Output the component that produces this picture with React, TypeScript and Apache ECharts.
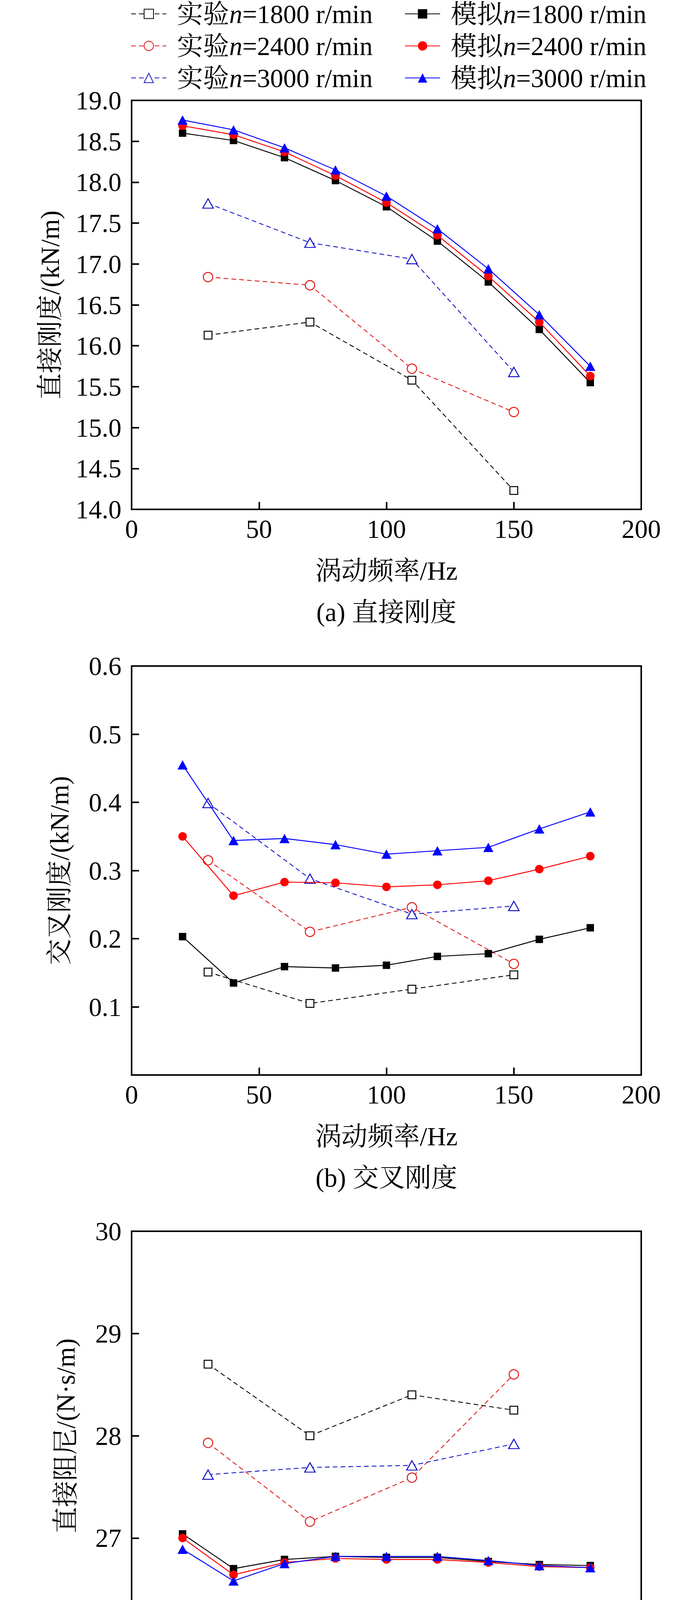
import React, { useEffect, useRef } from "react";
import * as echarts from "echarts";

const freqSim = [20, 40, 60, 80, 100, 120, 140, 160, 180];
const freqExp = [30, 70, 110, 150];

// (a) 直接刚度
const aSim1800 = [18.6, 18.51, 18.3, 18.02, 17.7, 17.28, 16.78, 16.2, 15.55];
const aSim2400 = [18.69, 18.58, 18.37, 18.08, 17.75, 17.35, 16.85, 16.29, 15.63];
const aSim3000 = [18.76, 18.64, 18.42, 18.15, 17.83, 17.43, 16.94, 16.38, 15.75];
const aExp1800 = [16.13, 16.29, 15.58, 14.23];
const aExp2400 = [16.84, 16.74, 15.72, 15.19];
const aExp3000 = [17.74, 17.26, 17.06, 15.68];

// (b) 交叉刚度
const bSim1800 = [0.203, 0.135, 0.159, 0.157, 0.161, 0.174, 0.178, 0.199, 0.216];
const bSim2400 = [0.35, 0.263, 0.283, 0.282, 0.276, 0.279, 0.285, 0.302, 0.321];
const bSim3000 = [0.455, 0.344, 0.347, 0.338, 0.324, 0.329, 0.334, 0.361, 0.386];
const bExp1800 = [0.151, 0.105, 0.126, 0.147];
const bExp2400 = [0.315, 0.21, 0.246, 0.163];
const bExp3000 = [0.399, 0.288, 0.236, 0.248];

// (c) 直接阻尼
const cSim1800 = [27.04, 26.7, 26.79, 26.82, 26.81, 26.81, 26.77, 26.74, 26.73];
const cSim2400 = [27.0, 26.64, 26.76, 26.8, 26.79, 26.79, 26.76, 26.72, 26.71];
const cSim3000 = [26.89, 26.58, 26.75, 26.82, 26.82, 26.82, 26.78, 26.73, 26.71];
const cExp1800 = [28.7, 28.0, 28.4, 28.25];
const cExp2400 = [27.93, 27.16, 27.59, 28.6];
const cExp3000 = [27.62, 27.69, 27.71, 27.92];

// (d) 有效阻尼
const dSim1800 = [25.41, 26.16, 26.37, 26.5, 26.55, 26.57, 26.57, 26.55, 26.53];
const dSim2400 = [24.21, 25.59, 26.01, 26.25, 26.36, 26.43, 26.44, 26.43, 26.43];
const dSim3000 = [23.27, 25.22, 25.84, 26.15, 26.3, 26.39, 26.39, 26.39, 26.39];
const dExp1800 = [27.89, 27.76, 28.23, 28.1];
const dExp2400 = [26.26, 26.68, 27.23, 28.43];
const dExp3000 = [25.51, 27.04, 27.36, 27.67];

const xTicks = [0, 50, 100, 150, 200];
const yRanges = [
  { min: 14, max: 19, interval: 0.5, digits: 1, hideMin: false },
  { min: 0, max: 0.6, interval: 0.1, digits: 1, hideMin: true },
  { min: 26, max: 30, interval: 1, digits: 0, hideMin: false },
  { min: 23, max: 30, interval: 1, digits: 0, hideMin: false },
];
const yNames = ["直接刚度/(kN/m)", "交叉刚度/(kN/m)", "直接阻尼/(N·s/m)", "有效阻尼/(N·s/m)"];
const captions = ["(a) 直接刚度", "(b) 交叉刚度", "(c) 直接阻尼", "(d) 有效阻尼"];
const xName = "涡动频率/Hz";

const expNames = ["实验n=1800 r/min", "实验n=2400 r/min", "实验n=3000 r/min"];
const simNames = ["模拟n=1800 r/min", "模拟n=2400 r/min", "模拟n=3000 r/min"];

const FONT = "'Liberation Serif', 'Times New Roman', 'Noto Serif CJK SC', 'Noto Sans CJK SC', serif";
const FS = 67;

export default function App() {
  const ref = useRef<HTMLDivElement>(null);
  useEffect(() => {
    document.body.style.margin = "0";
    if (!ref.current) return;
    const chart = echarts.init(ref.current, undefined, { renderer: "svg" });

    const expData = [
      [aExp1800, aExp2400, aExp3000],
      [bExp1800, bExp2400, bExp3000],
      [cExp1800, cExp2400, cExp3000],
      [dExp1800, dExp2400, dExp3000],
    ];
    const simData = [
      [aSim1800, aSim2400, aSim3000],
      [bSim1800, bSim2400, bSim3000],
      [cSim1800, cSim2400, cSim3000],
      [dSim1800, dSim2400, dSim3000],
    ];
    const expColors = ["#000000", "#e01818", "#1414c8"];
    const simColors = ["#000000", "#ff0000", "#0000ff"];
    const expSymbols = ["rect", "circle", "triangle"];
    const expSizes: any[] = [20, 24, [27, 24]];
    const simSizes: any[] = [19, 22, [26, 24]];

    const plotLeft = 337;
    const plotWidth = 1305;
    const plotHeight = 1047;
    const tops = [257, 1705, 3152, 4599];
    const nameGaps = [176, 152, 136, 136];

    const grids = tops.map((t) => ({
      left: plotLeft,
      top: t,
      width: plotWidth,
      height: plotHeight,
      show: true,
      borderColor: "#000",
      borderWidth: 4,
      backgroundColor: "transparent",
      containLabel: false,
    }));

    const xAxes = tops.map((_, i) => ({
      type: "value",
      gridIndex: i,
      min: xTicks[0],
      max: xTicks[xTicks.length - 1],
      interval: 50,
      name: xName,
      nameLocation: "middle",
      nameGap: 123,
      nameTextStyle: { fontSize: FS, fontFamily: FONT, color: "#000" },
      axisLine: { show: true, lineStyle: { color: "#000", width: 4 } },
      axisTick: { show: true, inside: true, length: 19, lineStyle: { color: "#000", width: 4 } },
      axisLabel: { fontSize: FS, fontFamily: FONT, color: "#000", margin: 16 },
      splitLine: { show: false },
    }));

    const yAxes = yRanges.map((r, i) => ({
      type: "value",
      gridIndex: i,
      min: r.min,
      max: r.max,
      interval: r.interval,
      name: yNames[i],
      nameLocation: "middle",
      nameGap: nameGaps[i],
      nameTextStyle: { fontSize: FS, fontFamily: FONT, color: "#000" },
      axisLine: { show: true, lineStyle: { color: "#000", width: 4 } },
      axisTick: { show: true, inside: true, length: 19, lineStyle: { color: "#000", width: 4 } },
      axisLabel: {
        fontSize: FS,
        fontFamily: FONT,
        color: "#000",
        margin: 26,
        formatter: (v: number) => (r.hideMin && Math.abs(v - r.min) < 1e-9 ? "" : v.toFixed(r.digits)),
      },
      splitLine: { show: false },
    }));

    const series: any[] = [];
    for (let g = 0; g < 4; g++) {
      for (let k = 0; k < 3; k++) {
        series.push({
          type: "line",
          name: expNames[k],
          xAxisIndex: g,
          yAxisIndex: g,
          data: freqExp.map((x, j) => [x, expData[g][k][j]]),
          symbol: expSymbols[k],
          symbolSize: expSizes[k],
          lineStyle: { color: expColors[k], width: 2.2, type: [12, 8] },
          itemStyle: { color: "#ffffff", borderColor: expColors[k], borderWidth: 2.5 },
          z: 2,
        });
      }
      for (let k = 0; k < 3; k++) {
        series.push({
          type: "line",
          name: simNames[k],
          xAxisIndex: g,
          yAxisIndex: g,
          data: freqSim.map((x, j) => [x, simData[g][k][j]]),
          symbol: expSymbols[k],
          symbolSize: simSizes[k],
          lineStyle: { color: simColors[k], width: 2.4, type: "solid" },
          itemStyle: { color: simColors[k], borderColor: simColors[k], borderWidth: 0 },
          z: 3 + k,
        });
      }
    }

    const legendText = {
      fontSize: FS,
      fontFamily: FONT,
      color: "#000",
      lineHeight: FS,
      rich: {
        s: { width: 22, fontSize: FS, fontFamily: FONT, lineHeight: FS },
        i: { fontStyle: "italic", fontSize: FS, fontFamily: FONT, color: "#000", lineHeight: FS },
      },
    };
    const legendFormatter = (name: string) => "{s|}" + name.replace("n=", "{i|n}=");
    const legends = [
      { data: expNames, left: 335 },
      { data: simNames, left: 1036 },
    ].map((l) => ({
      data: l.data,
      left: l.left,
      top: 2,
      orient: "vertical",
      itemWidth: 90,
      itemHeight: 30,
      itemGap: 15,
      padding: 0,
      textStyle: legendText,
      formatter: legendFormatter,
    }));

    const graphics = captions.map((c, i) => ({
      type: "text",
      x: plotLeft + plotWidth / 2,
      y: tops[i] + plotHeight + 263,
      style: {
        text: c,
        fontSize: FS,
        fontFamily: FONT,
        fill: "#000",
        align: "center",
        verticalAlign: "middle",
      },
    }));

    chart.setOption({
      animation: false,
      backgroundColor: "#ffffff",
      grid: grids,
      xAxis: xAxes,
      yAxis: yAxes,
      legend: legends,
      series,
      graphic: graphics,
    });
    return () => chart.dispose();
  }, []);
  return <div ref={ref} style={{ width: 1772, height: 5950 }} />;
}
